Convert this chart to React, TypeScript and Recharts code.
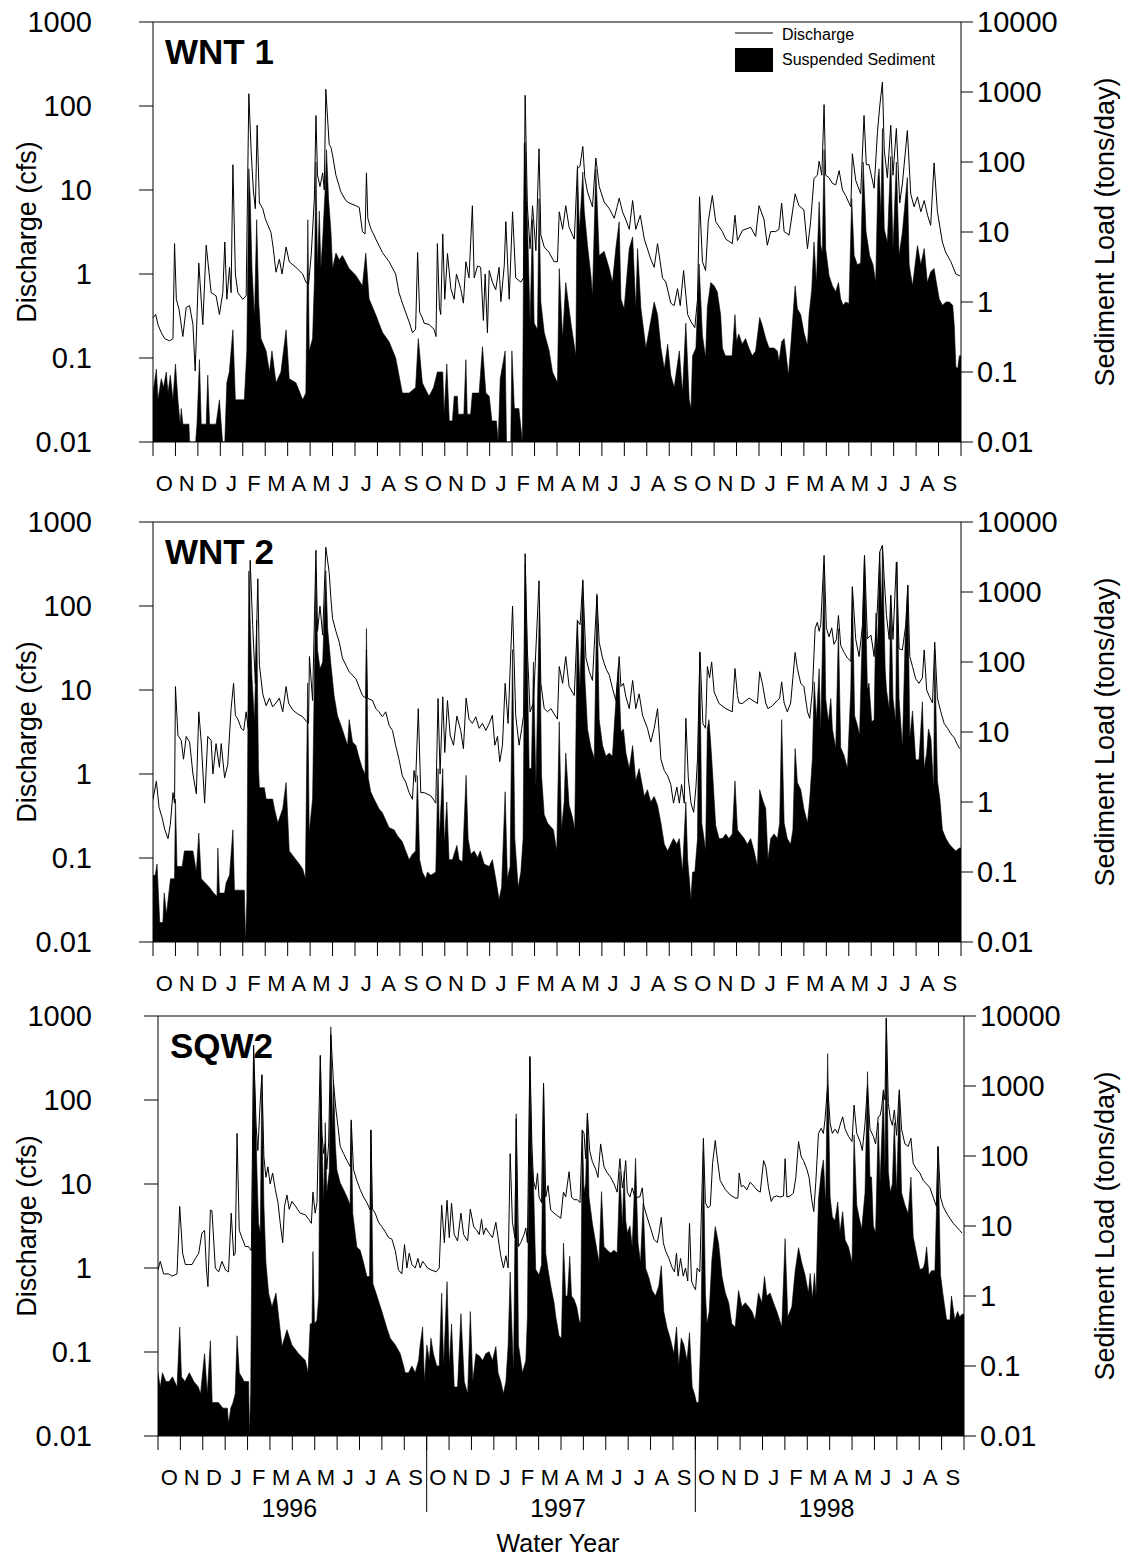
import { ComposedChart, Area, Line, XAxis, YAxis, ReferenceLine } from 'recharts';

// months since 1 Oct 1995 (water year start), value
const wnt1Discharge: [number, number][] = [
  [0,0.3],[0.12,0.33],[0.22,0.25],[0.37,0.2],[0.52,0.17],[0.74,0.16],[0.89,0.17],[0.96,2.3],[1.04,0.5],[1.16,0.38],[1.33,0.18],[1.48,0.4],[1.63,0.42],[1.78,0.25],[1.88,0.07],[2.04,1.35],[2.22,0.25],[2.37,2.2],[2.59,0.6],[2.81,0.55],[2.96,0.33],[3.11,0.6],[3.2,2.4],[3.29,0.5],[3.41,1.2],[3.48,0.6],[3.56,20],[3.67,1.0],[3.78,0.6],[4.0,0.5],[4.15,0.55],[4.27,140],[4.37,30],[4.47,10],[4.56,6],[4.64,59],[4.74,7],[4.89,6],[5.01,4.5],[5.26,3.1],[5.36,2],[5.48,1.05],[5.63,1.5],[5.75,1.0],[5.93,2.1],[6.07,1.4],[6.37,1.2],[6.67,1.0],[6.81,0.8],[6.93,0.75],[7.05,1.7],[7.19,8],[7.26,77],[7.33,15],[7.44,11],[7.56,16],[7.63,10],[7.7,158],[7.78,70],[7.85,35],[7.93,32],[8.0,26],[8.15,15],[8.37,9.5],[8.59,7.5],[8.74,7],[9.04,6.5],[9.19,6.2],[9.33,3.2],[9.45,3.0],[9.51,16],[9.57,4.6],[9.7,3.5],[9.93,2.6],[10.22,1.8],[10.52,1.4],[10.81,1.0],[10.96,0.6],[11.11,0.45],[11.41,0.27],[11.56,0.2],[11.7,0.22],[11.79,1.8],[11.88,0.35],[12.0,0.3],
  [12.08,0.26],[12.3,0.25],[12.52,0.22],[12.61,0.18],[12.67,2.3],[12.76,0.4],[12.82,0.33],[12.91,3.0],[13.0,0.5],[13.12,1.75],[13.27,0.67],[13.42,0.5],[13.52,1.0],[13.71,0.67],[13.83,0.45],[13.94,1.4],[14.08,0.9],[14.23,6.5],[14.31,0.9],[14.46,1.25],[14.6,1.2],[14.72,0.28],[14.8,1.0],[14.9,0.2],[14.98,1.1],[15.12,0.8],[15.27,0.65],[15.42,1.2],[15.5,0.47],[15.65,1.25],[15.72,4.2],[15.87,0.5],[16.02,5.5],[16.16,0.9],[16.39,0.8],[16.51,0.9],[16.58,134],[16.68,6.5],[16.8,2.0],[16.91,6.5],[17.06,1.9],[17.2,31],[17.28,2.9],[17.43,2.1],[17.65,1.8],[17.87,1.4],[18.02,1.4],[18.1,5.5],[18.25,3.4],[18.39,6.5],[18.54,3.6],[18.77,2.6],[18.91,18],[19.02,19],[19.15,33],[19.24,14],[19.36,9.5],[19.58,6.3],[19.73,24],[19.88,11],[20.1,7.2],[20.33,6],[20.55,4.6],[20.67,6.2],[20.77,8],[20.92,5.5],[21.07,4.4],[21.22,3.4],[21.37,7.5],[21.51,3.4],[21.71,5],[21.89,2.6],[22.18,1.5],[22.33,1.2],[22.48,2.3],[22.7,0.9],[22.85,0.8],[23.07,0.45],[23.22,0.42],[23.37,0.67],[23.49,0.42],[23.64,1.1],[23.82,0.33],[23.97,0.27],[24.14,0.23],[24.26,0.5],[24.35,8.3],
  [24.48,1.4],[24.62,1.1],[24.74,4.2],[24.92,8.6],[25.07,4.2],[25.37,3.2],[25.52,2.6],[25.81,2.3],[25.93,5],[26.04,2.5],[26.26,3.3],[26.63,3.6],[26.85,2.8],[27.0,6.5],[27.22,4.5],[27.37,2.2],[27.52,3.2],[27.74,3.2],[27.89,3.4],[28.01,7],[28.12,3.2],[28.34,2.9],[28.61,9],[28.78,6.5],[29.0,5.8],[29.16,2],[29.3,4.2],[29.45,13.7],[29.6,15],[29.68,22],[29.8,15],[29.9,104],[29.97,15],[30.12,14],[30.27,12],[30.42,11.5],[30.57,17],[30.72,10],[30.86,8.6],[31.09,6.3],[31.16,27],[31.31,13],[31.53,9],[31.68,77],[31.78,20],[31.9,20],[32.13,10.5],[32.28,50],[32.38,100],[32.5,193],[32.58,30],[32.72,14],[32.87,59],[32.97,15],[33.12,54],[33.27,7],[33.39,12],[33.61,51],[33.76,9],[33.91,6.3],[34.06,8.3],[34.21,5.5],[34.36,7.5],[34.51,5],[34.65,3.8],[34.8,21],[34.95,5.5],[35.17,2.4],[35.32,1.8],[35.55,1.4],[35.77,1.0],[35.95,0.95],
];

const wnt1Sediment: [number, number][] = [
  [0,0.05],[0.15,0.11],[0.22,0.04],[0.37,0.08],[0.47,0.06],[0.59,0.1],[0.67,0.05],[0.77,0.09],[0.89,0.04],[1.0,0.13],[1.11,0.04],[1.21,0.018],[1.26,0.03],[1.33,0.018],[1.6,0.018],[1.63,0.01],[1.9,0.01],[1.96,0.018],[2.07,0.15],[2.15,0.018],[2.37,0.018],[2.44,0.09],[2.52,0.018],[2.81,0.018],[2.96,0.04],[3.04,0.018],[3.1,0.01],[3.2,0.01],[3.29,0.07],[3.4,0.1],[3.56,0.4],[3.67,0.04],[4.07,0.04],[4.18,0.2],[4.27,80],[4.33,30],[4.41,3],[4.52,0.6],[4.62,15],[4.71,1.0],[4.81,0.3],[5.04,0.2],[5.19,0.1],[5.3,0.2],[5.48,0.07],[5.7,0.1],[5.93,0.4],[6.07,0.08],[6.37,0.07],[6.67,0.04],[6.81,0.05],[6.9,15],[6.96,0.2],[7.11,0.3],[7.19,2],[7.26,100],[7.33,3],[7.41,20],[7.48,3],[7.56,8],[7.67,40],[7.73,150],[7.82,30],[7.93,10],[8.0,3],[8.15,5],[8.3,4],[8.44,4.6],[8.74,3],[9.04,2.4],[9.33,1.7],[9.48,5],[9.63,1.1],[9.93,0.65],[10.22,0.37],[10.52,0.27],[10.81,0.16],[11.11,0.05],[11.41,0.05],[11.7,0.06],[11.82,0.3],[12.0,0.07],
  [12.1,0.06],[12.3,0.045],[12.5,0.06],[12.67,0.1],[12.91,0.1],[12.97,0.025],[13.09,0.13],[13.2,0.02],[13.34,0.02],[13.42,0.045],[13.56,0.045],[13.6,0.025],[13.85,0.025],[13.94,0.15],[14.0,0.025],[14.15,0.025],[14.23,0.05],[14.53,0.05],[14.68,0.23],[14.83,0.05],[14.98,0.045],[15.1,0.02],[15.3,0.02],[15.38,0.01],[15.47,0.08],[15.69,0.2],[15.75,0.01],[15.94,0.01],[15.99,0.2],[16.1,0.03],[16.3,0.03],[16.46,0.01],[16.54,183],[16.58,190],[16.66,24],[16.72,5],[16.8,0.5],[16.91,15],[16.98,0.5],[17.13,0.4],[17.2,30],[17.28,1.0],[17.43,0.37],[17.65,0.2],[17.8,0.1],[18.02,0.07],[18.1,3],[18.25,0.3],[18.39,1.9],[18.62,0.5],[18.84,0.17],[18.91,89],[19.0,10],[19.15,72],[19.21,21],[19.36,6.4],[19.51,2.4],[19.58,1.2],[19.73,80],[19.88,4.6],[20.1,5.3],[20.33,3.0],[20.47,1.9],[20.62,5.8],[20.77,14],[20.85,1.1],[20.99,0.8],[21.22,5.8],[21.37,8.5],[21.51,0.8],[21.59,5.8],[21.74,0.8],[21.96,0.22],[22.33,1.0],[22.48,0.66],[22.63,0.22],[22.78,0.11],[22.93,0.25],[23.07,0.09],[23.22,0.06],[23.45,0.2],[23.59,0.05],[23.74,0.5],[23.89,0.04],[23.97,0.03],
  [24.04,0.17],[24.19,0.22],[24.33,3.5],[24.48,0.33],[24.62,0.16],[24.7,0.85],[24.85,1.9],[25.0,1.7],[25.14,1.4],[25.29,0.66],[25.37,0.22],[25.5,0.17],[25.8,0.17],[25.93,0.66],[26.0,0.27],[26.1,0.35],[26.25,0.25],[26.4,0.3],[26.55,0.22],[26.7,0.17],[26.85,0.2],[27.03,0.6],[27.15,0.46],[27.3,0.3],[27.45,0.22],[27.67,0.22],[27.82,0.2],[27.89,0.14],[28.01,0.27],[28.12,0.3],[28.19,0.2],[28.31,0.09],[28.41,0.22],[28.61,1.7],[28.71,0.8],[28.86,0.66],[29.0,0.37],[29.16,0.24],[29.23,0.66],[29.35,1.5],[29.45,7.2],[29.56,1.9],[29.68,27],[29.75,6.4],[29.82,5],[29.9,150],[29.97,5.8],[30.12,2.4],[30.27,1.7],[30.42,1.4],[30.54,1.9],[30.64,1.1],[30.75,0.9],[30.86,1.0],[31.01,0.95],[31.13,30],[31.24,4.6],[31.38,3.4],[31.53,3.6],[31.64,100],[31.77,10],[31.93,4.6],[32.08,3.4],[32.2,1.9],[32.3,60],[32.35,80],[32.43,17],[32.5,300],[32.58,11],[32.72,7],[32.87,120],[32.97,5.8],[33.12,100],[33.24,4.6],[33.39,10],[33.61,60],[33.69,3.4],[33.84,1.7],[34.06,6.4],[34.21,3.4],[34.36,5.8],[34.5,1.9],[34.65,2.7],[34.8,3],[34.87,2.2],[35.03,1.1],[35.17,0.9],[35.33,1.0],[35.48,1.0],[35.63,0.9],[35.7,0.46],[35.77,0.12],[35.85,0.11],[35.93,0.17],[36,0.17],
];

const wnt2Discharge: [number, number][] = [
  [0,0.5],[0.15,0.82],[0.27,0.4],[0.41,0.3],[0.52,0.22],[0.67,0.17],[0.77,0.25],[0.89,0.6],[0.96,0.45],[1.0,11],[1.11,2.9],[1.26,2.5],[1.36,1.5],[1.48,2.8],[1.63,2.4],[1.78,1.0],[1.93,0.58],[2.04,5.5],[2.15,2.4],[2.3,0.45],[2.44,2.8],[2.59,2.5],[2.67,1.0],[2.81,2.3],[2.96,1.2],[3.04,2.3],[3.19,0.9],[3.33,1.3],[3.48,6],[3.59,12],[3.67,5],[3.78,4.5],[3.93,3.5],[4.04,3.3],[4.15,5.5],[4.24,3.5],[4.33,350],[4.44,60],[4.56,12],[4.67,211],[4.74,20],[4.89,9],[5.04,6.5],[5.19,8],[5.33,6.3],[5.48,7],[5.63,8],[5.78,5.5],[5.93,11],[6.04,7],[6.22,5.8],[6.44,5.2],[6.67,4.8],[6.84,4.2],[6.93,4.0],[6.97,25],[7.11,7.5],[7.26,460],[7.33,50],[7.44,100],[7.56,45],[7.7,500],[7.85,250],[7.93,120],[8.0,71],[8.15,50],[8.3,37],[8.44,24],[8.74,16.5],[9.04,13.6],[9.33,8.6],[9.48,8],[9.51,30],[9.55,8],[9.78,7.5],[9.93,6],[10.07,5.5],[10.22,4.8],[10.37,5.5],[10.52,3.8],[10.67,3.3],[10.81,2.2],[10.96,1.5],[11.11,0.95],[11.26,0.8],[11.41,0.6],[11.56,0.5],[11.63,1.1],[11.7,0.8],[11.82,6],[11.93,0.6],
  [12.08,0.6],[12.38,0.55],[12.6,0.45],[12.7,7.9],[12.79,1.0],[12.91,8.3],[13.0,1.8],[13.12,7.5],[13.24,2.9],[13.39,2.2],[13.54,4.9],[13.71,3.3],[13.83,2.0],[13.95,8],[14.08,4.5],[14.23,4],[14.38,4.8],[14.53,3.5],[14.68,4],[14.83,3.3],[14.98,4],[15.12,5],[15.23,2.2],[15.35,2.8],[15.45,1.4],[15.57,2.2],[15.69,12],[15.82,4],[16.02,100],[16.16,5],[16.31,2.2],[16.43,3.5],[16.51,5],[16.58,420],[16.68,30],[16.8,5.5],[16.95,7],[17.2,200],[17.28,12],[17.43,6],[17.58,5.5],[17.73,6],[17.87,5.2],[18.02,4.5],[18.1,19],[18.25,12],[18.39,25],[18.54,11],[18.77,8.6],[18.91,67],[19.03,60],[19.15,200],[19.29,24],[19.44,16.5],[19.58,13],[19.78,133],[19.88,37],[20.03,24],[20.18,18],[20.33,15],[20.47,10.5],[20.62,7.5],[20.77,25],[20.85,11],[20.96,12],[21.07,8.3],[21.22,6],[21.37,13],[21.51,6],[21.66,9],[21.81,5],[22.03,3.5],[22.18,2.4],[22.33,3.5],[22.48,6],[22.63,1.5],[22.78,1.1],[22.93,0.95],[23.07,0.75],[23.19,0.45],[23.34,0.7],[23.45,0.45],[23.55,0.75],[23.67,0.45],[23.74,4.6],[23.85,0.9],[23.97,0.45],[24.09,0.35],[24.19,0.7],[24.26,1.5],
  [24.37,28],[24.5,4],[24.62,3.5],[24.7,19],[24.8,14],[24.89,21.6],[25.0,9.5],[25.22,6.9],[25.52,6],[25.81,5.5],[25.93,18],[26.04,8.6],[26.11,7],[26.26,6.9],[26.56,8],[26.93,6.9],[27.03,16.5],[27.15,12],[27.3,7],[27.4,6],[27.6,6.5],[27.82,7.5],[27.92,8],[28.01,12.5],[28.12,7],[28.26,5.5],[28.41,7],[28.61,28],[28.71,18],[28.86,12],[29.0,11],[29.16,5.5],[29.26,4.6],[29.38,10],[29.5,54],[29.6,64],[29.68,50],[29.75,60],[29.9,400],[30.0,55],[30.12,43],[30.24,55],[30.34,35],[30.45,40],[30.54,77],[30.64,34],[30.79,28],[30.94,24],[31.09,22],[31.16,168],[31.31,40],[31.46,25],[31.61,59],[31.7,400],[31.83,41],[31.99,45],[32.13,25],[32.28,100],[32.38,440],[32.5,530],[32.58,210],[32.68,77],[32.8,40],[32.87,134],[32.97,40],[33.12,333],[33.24,31],[33.39,30],[33.54,60],[33.63,176],[33.72,25],[33.84,19],[33.98,13.6],[34.13,12],[34.28,14],[34.36,30],[34.47,10],[34.58,8.5],[34.73,7],[34.83,37],[34.95,8],[35.1,5.5],[35.25,4],[35.4,3.5],[35.55,3],[35.7,2.7],[35.85,2.2],[35.95,2.0],
];

const wnt2Sediment: [number, number][] = [
  [0,0.09],[0.1,0.09],[0.18,0.13],[0.3,0.019],[0.44,0.019],[0.5,0.05],[0.6,0.025],[0.78,0.08],[0.96,0.08],[1.0,1.1],[1.07,0.12],[1.3,0.12],[1.4,0.2],[1.78,0.2],[1.93,0.1],[2.04,0.36],[2.15,0.08],[2.52,0.06],[2.7,0.05],[2.85,0.045],[2.89,0.22],[2.96,0.05],[3.19,0.05],[3.26,0.07],[3.41,0.09],[3.56,0.4],[3.63,0.055],[4.07,0.055],[4.12,0.01],[4.18,0.04],[4.27,2000],[4.34,300],[4.41,60],[4.52,14],[4.62,400],[4.7,3],[4.74,1.6],[4.96,1.6],[5.04,1.1],[5.33,1.1],[5.41,0.8],[5.56,0.5],[5.78,0.8],[5.93,1.9],[6.07,0.2],[6.52,0.13],[6.67,0.11],[6.79,0.08],[6.89,50],[6.96,0.36],[7.11,1.1],[7.26,2000],[7.33,150],[7.44,80],[7.56,100],[7.7,2000],[7.78,300],[7.93,90],[8.07,33],[8.22,17],[8.37,12.6],[8.52,9],[8.67,6.4],[8.74,15],[8.89,7.2],[9.04,6.4],[9.19,4.2],[9.33,3],[9.45,2.5],[9.51,300],[9.59,2.2],[9.7,1.4],[9.85,1.1],[10.07,0.8],[10.22,0.7],[10.37,0.55],[10.52,0.43],[10.74,0.4],[10.89,0.33],[11.11,0.27],[11.26,0.2],[11.41,0.15],[11.56,0.18],[11.7,0.2],[11.78,2.4],[11.88,0.15],[12.0,0.1],[12.15,0.08],
  [12.23,0.1],[12.38,0.09],[12.6,0.1],[12.7,3],[12.76,0.3],[12.91,3],[12.98,0.25],[13.09,1.0],[13.19,0.15],[13.34,0.15],[13.54,0.24],[13.64,0.15],[13.79,0.14],[13.95,2.4],[14.04,0.3],[14.16,0.18],[14.31,0.2],[14.46,0.16],[14.58,0.2],[14.75,0.13],[14.98,0.12],[15.12,0.15],[15.27,0.08],[15.42,0.04],[15.53,0.06],[15.69,1.4],[15.79,0.08],[15.91,0.12],[16.02,150],[16.12,0.3],[16.27,0.06],[16.39,0.1],[16.49,0.3],[16.58,2500],[16.66,200],[16.76,3],[16.86,3],[16.95,100],[17.06,1.6],[17.22,800],[17.31,2.4],[17.43,0.66],[17.58,0.5],[17.7,0.45],[17.84,0.4],[17.99,0.2],[18.1,14],[18.2,0.4],[18.32,1.0],[18.39,5],[18.54,0.9],[18.69,0.6],[18.79,0.4],[18.91,400],[19.02,40],[19.15,1500],[19.24,60],[19.36,11],[19.51,6],[19.66,4.2],[19.78,950],[19.88,15],[20.03,6.4],[20.18,4.5],[20.33,5],[20.47,4.5],[20.62,27],[20.74,85],[20.85,10],[20.96,11],[21.07,5],[21.22,3],[21.37,6.4],[21.51,2],[21.66,3],[21.89,1.2],[22.03,1.5],[22.18,1.0],[22.33,1.2],[22.48,0.9],[22.63,0.5],[22.78,0.25],[22.93,0.2],[23.07,0.25],[23.19,0.3],[23.34,0.25],[23.45,0.3],[23.59,0.1],[23.74,1.0],[23.82,0.15],[23.97,0.04],[24.04,0.1],[24.14,0.1],[24.26,0.3],
  [24.3,11],[24.36,140],[24.45,0.5],[24.55,0.3],[24.62,0.2],[24.7,11],[24.77,15],[24.85,6.8],[24.92,3],[25.07,0.46],[25.22,0.3],[25.37,0.3],[25.52,0.35],[25.66,0.3],[25.81,0.35],[25.93,2.0],[26.04,0.4],[26.18,0.35],[26.34,0.3],[26.48,0.25],[26.63,0.3],[26.78,0.2],[26.93,0.12],[27.03,1.5],[27.15,1.1],[27.3,0.8],[27.4,0.15],[27.52,0.3],[27.67,0.35],[27.82,0.3],[27.92,0.5],[28.01,15],[28.12,0.5],[28.26,0.3],[28.41,0.25],[28.51,0.4],[28.61,5.8],[28.71,1.9],[28.86,1.5],[29.0,0.8],[29.16,0.5],[29.26,1.1],[29.38,4.2],[29.46,52],[29.56,15],[29.68,80],[29.75,10],[29.9,2500],[29.97,30],[30.09,14],[30.2,30],[30.27,11],[30.42,5.8],[30.54,300],[30.64,6],[30.79,4.6],[30.94,3],[31.09,40],[31.16,1200],[31.26,17],[31.38,12.6],[31.48,9],[31.61,330],[31.7,3300],[31.83,40],[31.9,50],[32.02,14],[32.13,15],[32.21,500],[32.28,150],[32.38,3700],[32.47,500],[32.5,4500],[32.62,80],[32.68,40],[32.8,21],[32.87,900],[32.97,30],[33.09,14],[33.15,2700],[33.24,30],[33.39,6],[33.51,200],[33.63,1250],[33.72,8],[33.84,20],[33.98,4],[34.13,4],[34.28,27],[34.36,3],[34.47,5],[34.55,11],[34.66,8],[34.78,1.5],[34.83,150],[34.95,2],[35.06,1.1],[35.17,0.4],[35.33,0.3],[35.48,0.25],[35.63,0.22],[35.77,0.2],[35.93,0.22],[36,0.22],
];

const sqw2Discharge: [number, number][] = [
  [0,0.95],[0.1,1.2],[0.25,0.85],[0.48,0.85],[0.63,0.8],[0.85,0.85],[0.97,5.4],[1.1,1.5],[1.22,1.1],[1.37,1.1],[1.52,1.1],[1.67,1.3],[1.82,1.5],[1.96,2.6],[2.08,2.8],[2.16,1.0],[2.23,0.6],[2.34,4.9],[2.41,4.8],[2.56,1.0],[2.71,0.9],[2.86,1.2],[3.01,0.95],[3.15,0.9],[3.27,4.5],[3.38,1.4],[3.45,1.5],[3.53,40],[3.63,2.8],[3.75,2.3],[3.9,1.8],[4.05,1.8],[4.17,1.6],[4.27,450],[4.38,50],[4.46,25],[4.57,100],[4.64,200],[4.73,21],[4.82,12],[4.91,16],[5.01,10],[5.12,13.5],[5.24,8.6],[5.36,6],[5.46,3.4],[5.57,2.0],[5.65,5.4],[5.76,7.4],[5.86,5],[5.98,6.2],[6.13,5.5],[6.35,4.5],[6.58,4.3],[6.73,3.8],[6.85,3.4],[6.92,8],[7.02,4.5],[7.1,6],[7.25,340],[7.32,40],[7.4,23],[7.47,30],[7.54,15],[7.62,30],[7.72,600],[7.84,158],[7.95,76],[8.04,48],[8.14,28],[8.29,23],[8.44,19],[8.59,16],[8.63,58],[8.73,15],[8.88,11],[9.03,8.6],[9.18,7],[9.33,6],[9.48,4.9],[9.51,44],[9.58,5],[9.7,4.5],[9.85,3.5],[10.0,3.1],[10.15,2.7],[10.3,2.3],[10.45,2.2],[10.6,1.6],[10.74,0.95],[10.89,0.85],[11.01,1.9],[11.12,1.0],[11.22,1.5],[11.34,1.1],[11.49,1.0],[11.61,1.3],[11.71,1.0],[11.82,1.2],[11.93,1.1],
  [12.04,1.0],[12.19,0.95],[12.42,0.9],[12.56,1.0],[12.67,5.6],[12.79,2.0],[12.91,6.4],[13.01,2.3],[13.11,5.9],[13.23,2.5],[13.38,2.1],[13.53,4.5],[13.65,2.5],[13.83,2.1],[13.95,5],[14.1,3.1],[14.24,2.8],[14.35,2.5],[14.45,3.8],[14.54,2.5],[14.64,3],[14.79,2.6],[14.94,2.3],[15.09,3.5],[15.19,2.3],[15.31,1.4],[15.43,1.0],[15.54,1.4],[15.64,1.0],[15.73,23],[15.83,3.5],[15.94,2.3],[16.0,60],[16.1,1.8],[16.2,2],[16.35,2.5],[16.43,3],[16.5,2],[16.61,330],[16.7,30],[16.77,11],[16.87,8.6],[16.95,13.5],[17.02,7],[17.13,6],[17.22,158],[17.32,7],[17.42,9.6],[17.54,4.9],[17.69,4.5],[17.84,4.2],[17.99,3.9],[18.11,8],[18.21,7],[18.36,14],[18.47,7],[18.58,6.5],[18.73,6.5],[18.85,6],[18.95,44],[19.03,40],[19.1,20],[19.18,69],[19.28,25],[19.4,18.5],[19.55,15],[19.65,12],[19.77,30],[19.92,16],[20.07,13.5],[20.22,12],[20.37,10],[20.51,8],[20.63,20],[20.74,9],[20.82,12],[20.89,19],[20.96,8],[21.08,7],[21.18,9],[21.33,6.5],[21.4,7],[21.52,7],[21.63,9],[21.7,5.5],[21.85,4],[22.0,3],[22.15,2.2],[22.3,2],[22.37,2.5],[22.48,4],[22.57,2],[22.67,1.6],[22.82,1.3],[22.97,1.0],[23.07,0.9],[23.16,1.5],[23.23,0.8],[23.34,1.3],[23.46,0.8],[23.56,1.0],[23.66,0.7],[23.74,3.4],[23.83,0.7],[23.93,0.6],
  [24.01,0.55],[24.08,1.0],[24.2,0.9],[24.36,35],[24.45,6],[24.56,5.2],[24.67,5.5],[24.77,17.6],[24.89,33],[24.97,21],[25.11,11],[25.34,8.6],[25.56,7.4],[25.78,6.8],[25.9,6.8],[25.96,13.5],[26.05,9.3],[26.15,9.6],[26.3,8.5],[26.45,10.5],[26.6,9.5],[26.75,8.5],[26.9,8],[27.05,19],[27.15,16],[27.27,9],[27.39,6.2],[27.49,7],[27.64,7.2],[27.79,7],[27.94,7.2],[28.01,20],[28.09,7],[28.23,7.2],[28.38,7.8],[28.49,12],[28.61,32],[28.73,21],[28.83,19],[28.98,15],[29.08,12],[29.2,6.5],[29.29,4.7],[29.38,10.5],[29.5,40],[29.62,46],[29.72,40],[29.79,58],[29.91,150],[30.02,53],[30.12,40],[30.24,45],[30.36,40],[30.46,50],[30.58,63],[30.69,45],[30.84,37],[31.0,32],[31.09,87],[31.21,40],[31.36,32],[31.46,25],[31.58,53],[31.69,150],[31.8,45],[31.95,37],[32.05,30],[32.17,63],[32.25,65],[32.32,80],[32.4,132],[32.47,100],[32.53,950],[32.62,91],[32.71,60],[32.8,50],[32.89,76],[32.99,38],[33.11,132],[33.21,45],[33.36,30],[33.51,28],[33.63,35],[33.73,17.6],[33.88,15],[34.03,13.5],[34.18,11],[34.33,10],[34.48,9],[34.62,7],[34.77,5.4],[34.84,28],[34.95,7],[35.07,5.4],[35.22,4.5],[35.37,3.9],[35.52,3.4],[35.66,3.1],[35.81,2.8],[35.91,2.6],
];

const sqw2Sediment: [number, number][] = [
  [0,0.08],[0.1,0.05],[0.2,0.08],[0.35,0.06],[0.5,0.06],[0.65,0.07],[0.85,0.05],[0.97,0.36],[1.05,0.07],[1.2,0.06],[1.4,0.08],[1.6,0.06],[1.8,0.05],[1.9,0.04],[2.08,0.15],[2.2,0.04],[2.34,0.23],[2.42,0.03],[2.7,0.03],[2.9,0.025],[3.1,0.025],[3.15,0.015],[3.25,0.025],[3.35,0.03],[3.45,0.04],[3.53,0.27],[3.63,0.08],[3.85,0.06],[4.05,0.06],[4.08,0.01],[4.14,0.04],[4.2,13.5],[4.27,3000],[4.35,500],[4.42,60],[4.49,11],[4.57,8],[4.64,1400],[4.73,20],[4.82,3],[4.94,1.1],[5.09,0.7],[5.27,1.1],[5.39,0.5],[5.54,0.19],[5.76,0.33],[5.98,0.2],[6.28,0.15],[6.58,0.12],[6.7,0.08],[6.8,0.4],[6.88,0.4],[6.92,4.3],[6.99,0.4],[7.1,0.45],[7.18,1],[7.25,2700],[7.32,200],[7.4,21],[7.47,300],[7.54,30],[7.65,60],[7.72,7000],[7.8,200],[7.84,1100],[7.92,150],[7.99,63],[8.14,41],[8.29,33],[8.44,26],[8.58,20],[8.63,300],[8.7,15],[8.88,5],[9.03,4.5],[9.18,3],[9.33,1.9],[9.45,1.9],[9.51,235],[9.6,1.5],[9.78,1.0],[10.0,0.6],[10.22,0.35],[10.37,0.25],[10.6,0.2],[10.82,0.15],[10.97,0.1],[11.04,0.08],[11.19,0.08],[11.34,0.1],[11.49,0.08],[11.64,0.12],[11.71,0.2],[11.82,0.36],[11.9,0.06],[12.01,0.2],
  [12.12,0.12],[12.19,0.25],[12.3,0.15],[12.45,0.1],[12.56,0.1],[12.67,1.1],[12.76,0.1],[12.91,1.6],[13.01,0.1],[13.11,0.4],[13.23,0.05],[13.38,0.05],[13.53,0.56],[13.68,0.06],[13.83,0.04],[13.95,0.6],[14.06,0.06],[14.2,0.15],[14.35,0.14],[14.5,0.12],[14.64,0.15],[14.79,0.16],[14.94,0.12],[15.09,0.19],[15.19,0.08],[15.31,0.06],[15.43,0.04],[15.54,0.06],[15.64,0.2],[15.73,2.2],[15.79,0.5],[15.88,0.08],[16.0,400],[16.1,0.2],[16.28,0.08],[16.43,0.12],[16.5,0.5],[16.61,2600],[16.69,100],[16.77,41],[16.87,2.4],[17.02,2],[17.13,2.8],[17.22,1100],[17.32,4],[17.42,2.4],[17.54,1.4],[17.69,0.8],[17.77,0.5],[17.91,0.27],[18.02,0.25],[18.11,5.7],[18.21,1.0],[18.29,1.0],[18.39,3.7],[18.47,1.0],[18.58,0.9],[18.7,0.7],[18.81,0.45],[18.88,0.4],[18.95,235],[19.03,30],[19.1,40],[19.18,410],[19.25,26],[19.4,11],[19.55,5.7],[19.7,3],[19.81,31],[19.92,5.1],[20.07,4.5],[20.22,4.1],[20.37,4.5],[20.51,4.1],[20.63,60],[20.74,10],[20.82,60],[20.89,12],[20.96,8],[21.08,10],[21.18,5],[21.33,93],[21.44,5.7],[21.55,3],[21.67,21],[21.78,2.5],[21.93,1.8],[22.07,1.2],[22.22,1.0],[22.37,1.4],[22.48,2.7],[22.59,0.6],[22.74,0.35],[22.89,0.24],[23.04,0.15],[23.16,0.36],[23.26,0.1],[23.37,0.25],[23.49,0.2],[23.63,0.12],[23.74,0.3],[23.86,0.05],[23.96,0.04],
  [24.05,0.03],[24.15,0.03],[24.25,0.3],[24.36,120],[24.45,1.1],[24.52,0.4],[24.62,0.6],[24.74,3.3],[24.89,9.8],[25.04,5.6],[25.19,1.9],[25.34,1.1],[25.49,0.8],[25.63,0.4],[25.78,0.36],[25.93,1.2],[26.08,0.7],[26.23,0.8],[26.38,0.7],[26.53,0.6],[26.67,0.45],[26.82,1.1],[26.97,0.8],[27.09,1.9],[27.19,1.0],[27.34,1.1],[27.49,0.8],[27.64,0.6],[27.86,0.36],[28.01,6.6],[28.13,0.5],[28.31,0.7],[28.46,2.3],[28.61,4.9],[28.75,3],[28.9,2],[29.05,1.1],[29.13,2.1],[29.23,0.9],[29.32,2.1],[29.39,1.0],[29.5,24],[29.62,57],[29.72,88],[29.82,20],[29.91,2900],[30.02,26],[30.12,13.5],[30.24,12],[30.36,22],[30.46,8],[30.58,16],[30.69,6.3],[30.84,5],[31.0,3],[31.09,200],[31.21,20],[31.31,13.6],[31.43,9],[31.58,30],[31.69,1600],[31.8,50],[31.87,50],[31.95,10],[32.05,8],[32.17,300],[32.25,40],[32.4,800],[32.47,60],[32.53,9000],[32.62,60],[32.71,30],[32.8,40],[32.89,300],[32.99,30],[33.11,800],[33.21,30],[33.36,20],[33.51,15],[33.63,50],[33.73,7],[33.88,4],[34.03,2.4],[34.18,2.5],[34.25,3],[34.33,5],[34.43,2],[34.55,2.3],[34.7,2.3],[34.84,135],[34.95,2],[35.07,1.0],[35.22,0.46],[35.37,0.45],[35.44,1.0],[35.59,0.45],[35.71,0.6],[35.81,0.5],[35.91,0.55],[36,0.55],
];

const monthLetters = ['O', 'N', 'D', 'J', 'F', 'M', 'A', 'M', 'J', 'J', 'A', 'S'];
const waterYears = ['1996', '1997', '1998'];
const dischargeTicks = [0.01, 0.1, 1, 10, 100, 1000];
const sedimentTicks = [0.01, 0.1, 1, 10, 100, 1000, 10000];
const monthTicks = Array.from({ length: 37 }, (_, i) => i);

const FONT = 'Arial, "Liberation Sans", Helvetica, sans-serif';
const TICK_LEN = 14;
const X_MARGIN = 19;

function mergeSeries(q: [number, number][], s: [number, number][]) {
  const rows = new Map<number, { m: number; q?: number; s?: number }>();
  q.forEach(([m, v]) => rows.set(m, { ...(rows.get(m) || { m }), q: v }));
  s.forEach(([m, v]) => rows.set(m, { ...(rows.get(m) || { m }), s: v }));
  return [...rows.values()].sort((a, b) => a.m - b.m);
}

function Panel({ title, discharge, sediment, top, leftW, rightW, height, years }: {
  title: string;
  discharge: [number, number][];
  sediment: [number, number][];
  top: number;
  leftW: number;
  rightW: number;
  height: number;
  years?: boolean;
}) {
  const data = mergeSeries(discharge, sediment);
  const plotW = 1130 - leftW - rightW;
  const half = plotW / 72;
  const xh = height - 22 - 420;

  const monthTick = (p: any) => {
    const { x, y, payload } = p;
    const v = payload.value as number;
    const axisY = y - TICK_LEN - X_MARGIN;
    return (
      <g>
        {v < 36 && (
          <text x={x + half} y={y} dy="0.71em" textAnchor="middle" fontSize={22} fontFamily={FONT} fill="#000">
            {monthLetters[v % 12]}
          </text>
        )}
        {years && (v === 12 || v === 24) && (
          <line x1={x} x2={x} y1={axisY} y2={axisY + 76} stroke="#000" strokeWidth={1} />
        )}
        {years && v % 12 === 6 && (
          <text x={x - 3} y={axisY + 81} textAnchor="middle" fontSize={25} fontFamily={FONT} fill="#000">
            {waterYears[Math.floor(v / 12)]}
          </text>
        )}
        {years && v === 18 && (
          <text x={x - 3} y={axisY + 116} textAnchor="middle" fontSize={25} fontFamily={FONT} fill="#000">
            Water Year
          </text>
        )}
      </g>
    );
  };

  const leftTitle = (p: any) => {
    const vb = p.viewBox || { y: 22, height: 420 };
    const cx = 27;
    const cy = vb.y + vb.height / 2;
    return (
      <text x={cx} y={cy} transform={`rotate(-90 ${cx} ${cy})`} textAnchor="middle" dominantBaseline="central" fontSize={27} fontFamily={FONT} fill="#000">
        Discharge (cfs)
      </text>
    );
  };
  const rightTitle = (p: any) => {
    const vb = p.viewBox || { y: 22, height: 420 };
    const cx = 1105;
    const cy = vb.y + vb.height / 2;
    return (
      <text x={cx} y={cy} transform={`rotate(-90 ${cx} ${cy})`} textAnchor="middle" dominantBaseline="central" fontSize={27} fontFamily={FONT} fill="#000">
        Sediment Load (tons/day)
      </text>
    );
  };

  return (
    <div style={{ position: 'absolute', left: 0, top, width: 1130, height }}>
      <ComposedChart width={1130} height={height} data={data} margin={{ top: 22, right: 0, bottom: 0, left: 0 }}>
        <XAxis
          xAxisId="x"
          type="number"
          dataKey="m"
          domain={[0, 36]}
          allowDataOverflow
          ticks={monthTicks}
          interval={0}
          height={xh}
          tickSize={TICK_LEN}
          tickMargin={X_MARGIN}
          tick={monthTick}
          stroke="#000"
        />
        <YAxis
          yAxisId="q"
          orientation="left"
          width={leftW}
          scale="log"
          domain={[0.01, 1000]}
          allowDataOverflow
          ticks={dischargeTicks}
          interval={0}
          tickFormatter={(v: number) => String(v)}
          tickSize={TICK_LEN}
          tickMargin={leftW - TICK_LEN - 92}
          tick={{ fill: '#000', fontSize: 29, fontFamily: FONT }}
          stroke="#000"
          label={leftTitle}
        />
        <YAxis
          yAxisId="s"
          orientation="right"
          width={rightW}
          scale="log"
          domain={[0.01, 10000]}
          allowDataOverflow
          ticks={sedimentTicks}
          interval={0}
          tickFormatter={(v: number) => String(v)}
          tickSize={12}
          tickMargin={4}
          tick={{ fill: '#000', fontSize: 29, fontFamily: FONT }}
          stroke="#000"
          label={rightTitle}
        />
        <ReferenceLine xAxisId="x" yAxisId="q" y={1000} stroke="#000" strokeWidth={1} />
        <Area
          xAxisId="x"
          yAxisId="s"
          dataKey="s"
          type="linear"
          baseValue="dataMin"
          fill="#000"
          fillOpacity={1}
          stroke="#000"
          strokeWidth={0.6}
          connectNulls
          dot={false}
          activeDot={false}
          isAnimationActive={false}
        />
        <Line
          xAxisId="x"
          yAxisId="q"
          dataKey="q"
          type="linear"
          stroke="#000"
          strokeWidth={1}
          dot={false}
          activeDot={false}
          connectNulls
          isAnimationActive={false}
        />
      </ComposedChart>
      <div
        style={{
          position: 'absolute',
          left: leftW + 12,
          top: 22 + 12,
          font: `bold 35px ${FONT}`,
          lineHeight: '35px',
          color: '#000',
        }}
      >
        {title}
      </div>
    </div>
  );
}

export default function App() {
  return (
    <div style={{ position: 'absolute', left: 0, top: 0, width: 1130, height: 1557, background: '#fff' }}>
      <Panel title="WNT 1" discharge={wnt1Discharge} sediment={wnt1Sediment} top={0} leftW={153} rightW={169} height={500} />
      <Panel title="WNT 2" discharge={wnt2Discharge} sediment={wnt2Sediment} top={500} leftW={153} rightW={169} height={500} />
      <Panel title="SQW2" discharge={sqw2Discharge} sediment={sqw2Sediment} top={994} leftW={158} rightW={166} height={563} years />
      <svg width={1130} height={90} style={{ position: 'absolute', left: 0, top: 0, pointerEvents: 'none' }}>
        <line x1={735} x2={773} y1={33} y2={33} stroke="#000" strokeWidth={1} />
        <text x={782} y={40} fontSize={16} fontFamily={FONT} fill="#000">Discharge</text>
        <rect x={735} y={48} width={38} height={24} fill="#000" />
        <text x={782} y={65} fontSize={16} fontFamily={FONT} fill="#000">Suspended Sediment</text>
      </svg>
    </div>
  );
}
